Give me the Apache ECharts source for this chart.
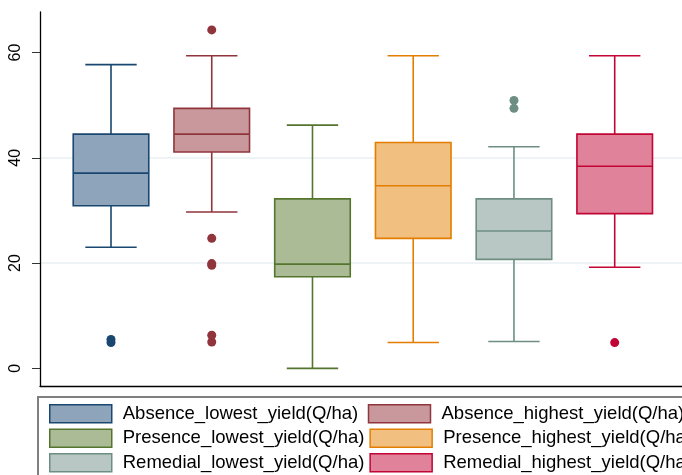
<!DOCTYPE html>
<html>
<head>
<meta charset="utf-8">
<script src="https://cdn.jsdelivr.net/npm/echarts@6/dist/echarts.min.js"></script>
<style>html,body{margin:0;padding:0;background:#fff;}#c{width:682px;height:475px;}</style>
</head>
<body>
<div id="c"></div>
<script>
// ---- data ----
const groups = [
  'Absence_lowest_yield(Q/ha)', 'Absence_highest_yield(Q/ha)',
  'Presence_lowest_yield(Q/ha)', 'Presence_highest_yield(Q/ha)',
  'Remedial_lowest_yield(Q/ha)', 'Remedial_highest_yield(Q/ha)'
];
const groupPos = [1, 2, 3, 4, 5, 6];
const lowerWhisker = [23.0, 29.7, 0.0, 4.9, 5.1, 19.2];
const q1 = [30.9, 41.1, 17.4, 24.7, 20.7, 29.4];
const median = [37.1, 44.5, 19.8, 34.7, 26.1, 38.4];
const q3 = [44.5, 49.4, 32.2, 42.9, 32.2, 44.5];
const upperWhisker = [57.7, 59.4, 46.2, 59.4, 42.1, 59.4];
const outliers = [
  [5.5, 4.9],
  [64.3, 24.7, 19.9, 19.6, 6.3, 5.0],
  [],
  [],
  [50.9, 49.4],
  [4.9]
];
const yTicks = [0, 20, 40, 60];

// ---- styles ----
const lineColors = ['#1a476f', '#90353b', '#55752f', '#e37e00', '#6e8e84', '#c10534'];
const fillColors = ['#8ea4bb', '#c8989c', '#aabb96', '#f1bf80', '#b8c7c3', '#e0839a'];
const BOX_W = 0.75, CAP_W = 0.51;

function makeRender(stroke, fill) {
  return function (params, api) {
    const x = api.value(0);
    const lo = api.coord([x, api.value(1)]);
    const b1 = api.coord([x, api.value(2)]);
    const md = api.coord([x, api.value(3)]);
    const b3 = api.coord([x, api.value(4)]);
    const hi = api.coord([x, api.value(5)]);
    const bw = api.size([BOX_W, 0])[0];
    const cw = api.size([CAP_W, 0])[0];
    const cx = lo[0];
    const ls = { stroke: stroke, lineWidth: 1.6, fill: null };
    return {
      type: 'group',
      children: [
        { type: 'line', shape: { x1: cx, y1: b3[1], x2: cx, y2: hi[1] }, style: ls },
        { type: 'line', shape: { x1: cx, y1: b1[1], x2: cx, y2: lo[1] }, style: ls },
        { type: 'line', shape: { x1: cx - cw / 2, y1: hi[1], x2: cx + cw / 2, y2: hi[1] }, style: ls },
        { type: 'line', shape: { x1: cx - cw / 2, y1: lo[1], x2: cx + cw / 2, y2: lo[1] }, style: ls },
        { type: 'rect', shape: { x: cx - bw / 2, y: b3[1], width: bw, height: b1[1] - b3[1] },
          style: { fill: fill, stroke: stroke, lineWidth: 1.6 } },
        { type: 'line', shape: { x1: cx - bw / 2, y1: md[1], x2: cx + bw / 2, y2: md[1] }, style: ls }
      ]
    };
  };
}

const series = [];
groups.forEach(function (g, i) {
  series.push({
    name: g,
    type: 'custom',
    renderItem: makeRender(lineColors[i], fillColors[i]),
    encode: { x: 0, y: [1, 2, 3, 4, 5] },
    itemStyle: { color: fillColors[i], borderColor: lineColors[i], borderWidth: 1.5 },
    data: [[groupPos[i], lowerWhisker[i], q1[i], median[i], q3[i], upperWhisker[i]]],
    silent: true
  });
});
groups.forEach(function (g, i) {
  if (!outliers[i].length) return;
  series.push({
    name: g,
    type: 'scatter',
    symbol: 'circle',
    symbolSize: 9,
    itemStyle: { color: lineColors[i], opacity: 1 },
    data: outliers[i].map(function (v) { return [groupPos[i], v]; }),
    silent: true
  });
});

const chart = echarts.init(document.getElementById('c'), null, { renderer: 'canvas' });
chart.setOption({
  animation: false,
  backgroundColor: '#ffffff',
  textStyle: { fontFamily: 'Liberation Sans, Arial, sans-serif' },
  grid: { left: 40, right: 0, top: 12, bottom: 89, containLabel: false },
  xAxis: {
    type: 'value', min: 0.2952, max: 6.668,
    axisLine: { show: true, onZero: false, lineStyle: { color: '#000', width: 1.3 } },
    axisTick: { show: false }, axisLabel: { show: false }, splitLine: { show: false }
  },
  yAxis: {
    type: 'value', min: -3.35, max: 67.7, splitNumber: 4,
    axisLine: { show: true, onZero: false, lineStyle: { color: '#000', width: 1.3 } },
    axisTick: { show: true, length: 8, customValues: yTicks, lineStyle: { color: '#333', width: 1 } },
    axisLabel: {
      show: true, rotate: 90, margin: 16, fontSize: 16, color: '#000',
      customValues: yTicks,
      fontFamily: 'Liberation Sans, Arial, sans-serif'
    },
    splitLine: { show: true, showMinLine: false, showMaxLine: false,
      lineStyle: { color: '#e9eff3', width: 1.5 } }
  },
  legend: {
    left: 38, top: 397, width: 760,
    orient: 'horizontal',
    padding: [7, 20, 10, 11],
    itemWidth: 62, itemHeight: 18, itemGap: 5,
    icon: 'rect',
    backgroundColor: '#fff',
    borderColor: '#808080', borderWidth: 2, borderRadius: 0,
    selectedMode: false,
    textStyle: {
      fontSize: 18.5, color: '#000', width: 240, overflow: 'none', lineHeight: 18,
      padding: [0, 0, 0, 6],
      fontFamily: 'Liberation Sans, Arial, sans-serif'
    },
    data: groups.map(function (g, i) {
      return { name: g, itemStyle: { color: fillColors[i], borderColor: lineColors[i], borderWidth: 1.5 } };
    })
  },
  series: series
});
</script>
</body>
</html>
